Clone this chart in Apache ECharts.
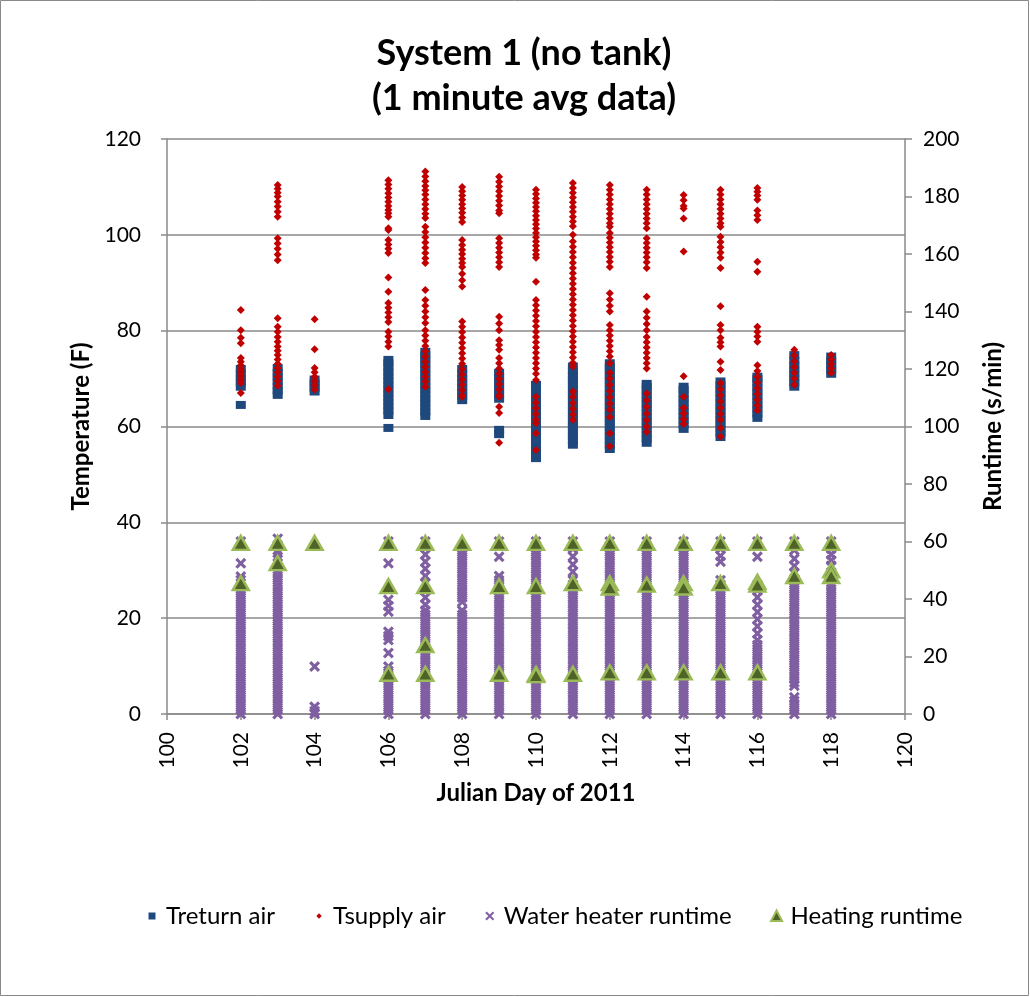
<!DOCTYPE html>
<html>
<head>
<meta charset="utf-8">
<script src="https://cdn.jsdelivr.net/npm/echarts@6/dist/echarts.min.js"></script>
<style>
html,body{margin:0;padding:0;background:#fff;}
#chart{width:1030px;height:997px;}
</style>
</head>
<body>
<div id="chart"></div>
<script>
// ---- data (x = Julian day, values per day in the same order as `days`) ----
const days = [102,103,104,105,106,107,108,109,110,111,112,113,114,115,116,117,118];
const xTicks = [100,102,104,106,108,110,112,114,116,118,120];
const tempTicks = [0,20,40,60,80,100,120];
const runtimeTicks = [0,20,40,60,80,100,120,140,160,180,200];

// Treturn air (F)
const treturnAir = [
  [64.5,68.3,69.2,70.1,71,72],
  [66.6,67.5,68.4,69.4,70.3,71.2,72.2],
  [67.3,68.1,69,69.8],
  [],
  [59.7,62.4,63.3,64.2,65.1,66,66.9,67.8,68.7,69.6,70.5,71.4,72.3,73.2,73.9],
  [62.2,63.1,64,64.9,65.8,66.7,67.6,68.5,69.4,70.3,71.2,72.1,73,73.9,74.8,75.6],
  [65.5,66.4,67.3,68.2,69.1,70,71,72],
  [58.4,59.3,65.8,66.7,67.6,68.5,69.4,70.3,71.2],
  [53.4,54.3,55.2,56.1,57,57.9,58.8,59.7,60.6,61.5,62.4,63.3,64.2,65.1,66,66.9,67.8,68.7],
  [56.2,57.1,58,58.9,59.8,60.7,61.6,62.5,63.4,64.3,65.2,66.1,67,67.9,68.8,69.7,70.6,71.5,72.5],
  [55.3,56.2,57.1,58,58.9,59.8,60.7,61.6,62.5,63.4,64.3,65.2,66.1,67,67.9,68.8,69.7,70.6,71.5,72.4,73.2],
  [56.6,57.5,58.4,59.3,60.2,61.1,62,62.9,63.8,64.7,65.6,66.5,67.4,68.3,68.9],
  [59.5,60.4,61.3,62.2,63.1,64,64.9,65.8,66.7,67.6,68.3],
  [57.8,58.7,59.6,60.5,61.4,62.3,63.2,64.1,65,65.9,66.8,67.7,68.6,69.4],
  [61.8,62.7,63.6,64.5,65.4,66.3,67.2,68.1,69,69.9,70.4],
  [68.3,69.2,70.1,71,71.9,72.8,73.7,74.9],
  [71,71.9,72.8,73.7,74.6]
];

// Tsupply air (F)
const tsupplyAir = [
  [84.3,80.1,78.5,77.4,74.3,73.5,72.8,72,71.3,70.6,69.8,69.1,67],
  [110.4,109.6,108.8,108,106.9,105.9,104.8,103.8,99.3,98.2,97.1,95.9,94.7,82.6,80.8,79.8,78.7,77.7,76.7,75.8,74.9,74,73.1,72.2,71.3,70.4,69.5,68.5],
  [82.4,76.1,72.2,71.3,70.4,69.5,68.6,67.7],
  [],
  [111.4,110.5,109.6,108.7,107.8,106.9,106,105.2,104.5,103.8,101.4,101,98.9,98,97.1,96.2,91.1,88.1,85.8,84.8,83.8,82.8,81.8,79.8,78.8,77.7,76.7,67.8],
  [113.2,112.2,111.2,110.2,109.3,108.4,107.4,106.4,105.4,104.4,103.5,101.7,100.6,99.5,98.4,97.3,96.2,95.1,94.1,88.5,86.4,85.2,84,82.8,81.6,80.1,79,77.9,76.8,75.7,74.6,73.5,72.4,71.4,70.4,69.4,68.3],
  [110,109.1,108.2,107.3,106.4,105.5,104.6,103.6,102.7,98.9,97.9,96.9,96,95,94.1,93.3,91.9,90.5,89.2,81.9,80.8,79.7,78.6,77.5,76.4,75.3,74.2,73.1,72,70.9,69.8,68.7,67.6,66.5,66.2],
  [112.1,111.1,110.1,109.1,108.1,107.1,106.1,105.1,104.5,99.3,98.3,97.3,96.3,95.3,94.3,93.3,82.9,81.5,80.1,78,77,76,74.3,73.2,72.1,71,69.9,68.8,67.7,66.6,66.2,64.1,62.8,56.6],
  [109.4,108.5,107.6,106.7,105.8,104.9,104,103.1,102.2,101.3,100.4,99.5,98.6,97.7,96.8,95.9,95.2,90.2,86.4,85.3,84.2,83.1,82,80.9,79.8,78.7,77.6,76.5,75.4,74.3,73.2,72.1,71,69.7,66.2,65,63.8,62.6,61.4,60.7,58.6,55.1],
  [110.8,109.8,108.8,107.8,106.8,105.8,104.8,103.8,102.8,101.8,100,98.6,97.5,96.4,95.3,94.2,93.1,92,90.9,89.8,88.7,87.6,86.5,85.4,84.3,83.2,82.1,81,79.9,78.8,77.7,76.6,75.5,74.4,73.3,72.5,67.3,66.2,64.9,63.7,62.5,61.4],
  [110.4,109.4,108.4,107.4,106.4,105.4,104.4,103.4,102.4,101.7,100.4,99.4,98.4,97.4,96.4,95.4,94.4,93.3,87.8,86.5,85.2,84,81.2,80.1,79,77.9,76.8,75.7,74.6,73.2,71.2,70,68.7,67.4,66.1,64.8,63.5,62,58.6,55.9],
  [109.4,108.4,107.4,106.4,105.4,104.4,103.4,102.4,101.4,99.3,98.3,97.3,96.3,95.3,94.3,93.1,87.1,84,82.7,81.4,80.1,78.7,77.6,76.5,75.4,74.3,73.2,72.1,66.9,65.5,64.1,62.7,61.3,60,58.9],
  [108.3,107.2,106,105.5,103.4,96.5,70.5,66.2,63.9,62.7,61.5,60.5],
  [109.4,108.4,107.4,106.4,105.4,104.4,103.4,102.4,101.7,99.6,98.5,97.4,96.3,95.2,93.1,85.1,81.2,80.1,78.5,77.6,76.7,73.5,71.8,69.1,67.8,66.5,65.2,63.9,62.6,61.4,59.7,57.9],
  [109.8,109,108.2,107.3,105.1,104.1,103.1,94.4,92.3,80.8,79.8,78.8,77.7,72.8,71.6,70.4,69.2,68,66.8,65.6,64.4,63.4],
  [76,74.8,73.6,72.4,71.2,70,68.7],
  [74.9,74,73,72.1,71.2]
];

// Water heater runtime (s/min)
const waterHeaterRuntime = [
  [0,1.5,3,4.5,6,7.5,9,10.5,12,13.5,15,16.5,18,19.5,21,22.5,24,25.5,27,28.5,30,31.5,33,34.5,36,37.5,39,40.5,42,43.5,46.6,47.8,52.4,60],
  [0,1.5,3,4.5,6,7.5,9,10.5,12,13.5,15,16.5,18,19.5,21,22.5,24,25.5,27,28.5,30,31.5,33,34.5,36,37.5,39,40.5,42,43.5,45,46.5,48,49.5,54.7,56,61],
  [0,1,2.5,16.5],
  [],
  [0,1.5,3,4.5,6,7.5,9,10.5,12,13.5,15,16.5,21.2,25.7,27.1,28.6,35.6,37.6,39.7,52.4,60],
  [0,1.5,3,4.5,6,7.5,9,10.5,12,13.5,15,16.5,18,19.5,21,22.5,24,25.5,27,28.5,30,31.5,33,34.5,36,38,40.5,43,45.5,48,50.5,53,55.5,58,60],
  [0,1.5,3,4.5,6,7.5,9,10.5,12,13.5,15,16.5,18,19.5,21,22.5,24,25.5,27,28.5,30,31.5,33,34.5,36,39,40.5,42,43.5,45,46.5,48,49.5,51,52.5,54,55.5,57],
  [0,1.5,3,4.5,6,7.5,9,10.5,12,13.5,15,16.5,18,19.5,21,22.5,24,25.5,27,28.5,30,31.5,33,34.5,36,37.5,39,40.5,42,43.5,45,46.5,48,54.7,60],
  [0,1.5,3,4.5,6,7.5,9,10.5,12,13.5,15,16.5,18,19.5,21,22.5,24,25.5,27,28.5,30,31.5,33,34.5,36,37.5,39,40.5,42,43.5,45,46.5,48,49.5,51,52.5,54,55.5,57,58.5,60],
  [0,1.5,3,4.5,6,7.5,9,10.5,12,13.5,15,16.5,18,19.5,21,22.5,24,25.5,27,28.5,30,31.5,33,34.5,36,37.5,39,40.5,42,43.5,45,46.5,49.5,52,54.8,57.5,60],
  [0,1.5,3,4.5,6,7.5,9,10.5,12,13.5,15,16.5,18,19.5,21,22.5,24,25.5,27,28.5,30,31.5,33,34.5,36,37.5,39,40.5,42,43.5,45,46.5,48,49.5,51,52.5,54,55.5,57,58.5,60],
  [0,1.5,3,4.5,6,7.5,9,10.5,12,13.5,15,16.5,18,19.5,21,22.5,24,25.5,27,28.5,30,31.5,33,34.5,36,37.5,39,40.5,42,43.5,45,46.5,48,49.5,51,52.5,54,55.5,57,58.5,60],
  [0,1.5,3,4.5,6,7.5,9,10.5,12,13.5,15,16.5,18,19.5,21,22.5,24,25.5,27,28.5,30,31.5,33,34.5,36,37.5,39,40.5,42,43.5,45,46.5,48,49.5,51,52.5,54,55.5,57,58.5,60],
  [0,1.5,3,4.5,6,7.5,9,10.5,12,13.5,15,16.5,18,19.5,21,22.5,24,25.5,27,28.5,30,31.5,33,34.5,36,37.5,39,40.5,42,43.5,45,46.5,53,55,57.5,60],
  [0,1.5,3,4.5,6,7.5,9,10.5,12,13.5,15,16.5,18,19.5,21,22.5,24,25.7,28,30.5,33,35.5,38,40.6,43,45,54.7,60],
  [0,1.5,3,4.5,5.8,9.8,11,12.5,14,15.5,17,18.5,20,21.5,23,24.5,26,27.5,29,30.5,32,33.5,35,36.5,38,39.5,41,42.5,44,45.5,47,49,51.5,54,57,60],
  [0,1.5,3,4.5,6,7.5,9,10.5,12,13.5,15,16.5,18,19.5,21,22.5,24,25.5,27,28.5,30,31.5,33,34.5,36,37.5,39,40.5,42,43.5,45,51.6,53.5,55.5,57.5,60]
];

// Heating runtime (s/min)
const heatingRuntime = [
  [59.5,45.5],
  [59.5,52.5],
  [59.5],
  [],
  [59.5,44.5,14],
  [59.5,44.5,24,14],
  [59.5],
  [59.5,44.5,14],
  [59.5,44.5,14,13.5],
  [59.5,45.5,14],
  [59.5,45.5,44,14.5],
  [59.5,45,14.5],
  [59.5,45.5,44,14.5],
  [59.5,45.5,14.5],
  [59.5,46,45,14.5],
  [59.5,48],
  [59.5,50,48]
];

function pairs(vals){
  const out = [];
  days.forEach((d,i)=>vals[i].forEach(v=>out.push([d,v])));
  return out;
}

const FONT = 'Lato, "Open Sans", sans-serif';
const GRID = '#8a8a8a';
const xPath = 'path://M0,2 L2,0 L5,3 L8,0 L10,2 L7,5 L10,8 L8,10 L5,7 L2,10 L0,8 L3,5 Z';
const legSquare = 'path://M0,0 M12,12 M2.5,2.5 L9.5,2.5 L9.5,9.5 L2.5,9.5 Z';
const legDiamond = 'path://M0,0 M12,12 M6,3.3 L8.7,6 L6,8.7 L3.3,6 Z';
const legX = 'path://M0,0 M12,12 M1.5,2.9 L2.9,1.5 L6,4.6 L9.1,1.5 L10.5,2.9 L7.4,6 L10.5,9.1 L9.1,10.5 L6,7.4 L2.9,10.5 L1.5,9.1 L4.6,6 Z';
const legTri = 'path://M0,0 M12,12 M6,0.5 L11.5,11 L0.5,11 Z';

const chart = echarts.init(document.getElementById('chart'), null, {renderer:'canvas'});
chart.setOption({
  backgroundColor:'#fff',
  animation:false,
  textStyle:{fontFamily:FONT},
  graphic:[{
    type:'rect', shape:{x:0.5,y:0.5,width:1028,height:995},
    style:{fill:'none',stroke:'#898989',lineWidth:1}, silent:true, z:-1
  }],
  title:{
    text:'System 1 (no tank)\n(1 minute avg data)',
    left:519, top:26, textAlign:'center',
    textStyle:{fontFamily:FONT,fontSize:36,fontWeight:'bold',color:'#000',lineHeight:45}
  },
  grid:{left:167,right:125,top:139,bottom:283,containLabel:false},
  legend:{
    left:141, top:899,
    itemWidth:12, itemHeight:12, itemGap:38,
    textStyle:{fontFamily:FONT,fontSize:24,color:'#000',padding:[0,0,0,3]},
    data:[
      {name:'Treturn air',icon:legSquare},
      {name:'Tsupply air',icon:legDiamond},
      {name:'Water heater runtime',icon:legX},
      {name:'Heating runtime',icon:legTri}
    ]
  },
  xAxis:{
    type:'value', min:xTicks[0], max:xTicks[xTicks.length-1], interval:2,
    name:'Julian Day of 2011', nameLocation:'middle', nameGap:67,
    nameTextStyle:{fontFamily:FONT,fontSize:24,fontWeight:'bold',color:'#000'},
    axisLine:{show:true,onZero:false,lineStyle:{color:GRID,width:1.5}},
    axisTick:{show:true,length:6,lineStyle:{color:GRID,width:1.5}},
    axisLabel:{rotate:90,fontSize:21,color:'#000',margin:18,fontFamily:FONT},
    splitLine:{show:false}
  },
  yAxis:[{
    type:'value', min:tempTicks[0], max:tempTicks[tempTicks.length-1], interval:20,
    name:'Temperature (F)', nameLocation:'middle', nameGap:74, nameRotate:90,
    nameTextStyle:{fontFamily:FONT,fontSize:24,fontWeight:'bold',color:'#000'},
    axisLine:{show:true,lineStyle:{color:GRID,width:1.5}},
    axisTick:{show:true,length:6,lineStyle:{color:GRID,width:1.5}},
    axisLabel:{fontSize:21,color:'#000',margin:26,fontFamily:FONT},
    splitLine:{show:true,lineStyle:{color:GRID,width:1.5}}
  },{
    type:'value', min:runtimeTicks[0], max:runtimeTicks[runtimeTicks.length-1], interval:20,
    position:'right',
    name:'Runtime (s/min)', nameLocation:'middle', nameGap:76, nameRotate:90,
    nameTextStyle:{fontFamily:FONT,fontSize:24,fontWeight:'bold',color:'#000'},
    axisLine:{show:true,lineStyle:{color:GRID,width:1.5}},
    axisTick:{show:true,length:7,lineStyle:{color:GRID,width:1.5}},
    axisLabel:{fontSize:21,color:'#000',margin:18,fontFamily:FONT},
    splitLine:{show:false}
  }],
  series:[
    {name:'Treturn air',type:'scatter',yAxisIndex:0,symbol:'rect',symbolSize:[10,8],
     itemStyle:{color:'#1F497D',opacity:1},data:pairs(treturnAir),z:2},
    {name:'Tsupply air',type:'scatter',yAxisIndex:0,symbol:'diamond',symbolSize:8,
     itemStyle:{color:'#C00000',opacity:1},data:pairs(tsupplyAir),z:3},
    {name:'Water heater runtime',type:'scatter',yAxisIndex:1,symbol:xPath,symbolSize:11,
     itemStyle:{color:'#7F5FA1',opacity:1},data:pairs(waterHeaterRuntime),z:4},
    {name:'Heating runtime',type:'scatter',yAxisIndex:1,symbol:'triangle',symbolSize:[16,14],
     itemStyle:{color:'#4F6228',borderColor:'#9BBB59',borderWidth:2.5,opacity:1},data:pairs(heatingRuntime),z:5}
  ]
});
</script>
</body>
</html>
